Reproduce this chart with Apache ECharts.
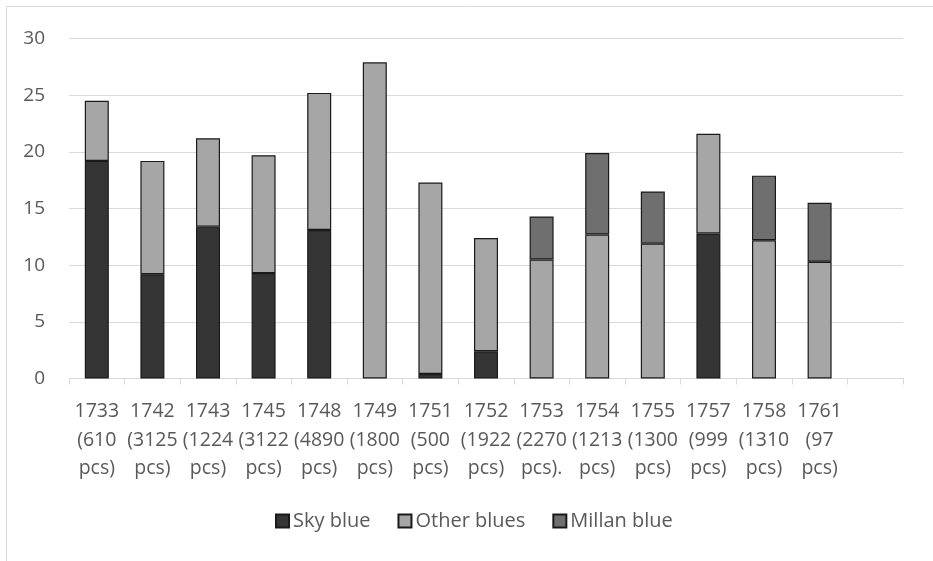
<!DOCTYPE html>
<html>
<head>
<meta charset="utf-8">
<script src="https://cdn.jsdelivr.net/npm/echarts@6/dist/echarts.min.js"></script>
<style>html,body{margin:0;padding:0;background:#fff}#c{width:933px;height:561px}</style>
</head>
<body>
<div id="c"></div>
<script>
const categories = ['1733\n(610\npcs)','1742\n(3125\npcs)','1743\n(1224\npcs)','1745\n(3122\npcs)','1748\n(4890\npcs)','1749\n(1800\npcs)','1751\n(500\npcs)','1752\n(1922\npcs)','1753\n(2270\npcs).','1754\n(1213\npcs)','1755\n(1300\npcs)','1757\n(999\npcs)','1758\n(1310\npcs)','1761\n(97\npcs)',''];
const skyBlue    = [19.2, 9.2, 13.4, 9.3, 13.1, null, 0.4, 2.4, null, null, null, 12.8, null, null, null];
const otherBlues = [5.3, 10.0, 7.8, 10.4, 12.1, 27.9, 16.9, 10.0, 10.5, 12.7, 11.9, 8.8, 12.2, 10.3, null];
const millanBlue = [null, null, null, null, null, null, null, null, 3.8, 7.2, 4.6, null, 5.7, 5.2, null];
const yTicks = [0, 5, 10, 15, 20, 25, 30];

const FONT = 'Open Sans';
const chart = echarts.init(document.getElementById('c'), null, {renderer: 'canvas'});
const barStyle = (color) => ({color: color, borderColor: '#1a1a1a', borderWidth: 1.2});
chart.setOption({
  animation: false,
  textStyle: {fontFamily: FONT},
  graphic: [{
    type: 'polyline', silent: true,
    shape: {points: [[6.5, 600], [6.5, 6.5], [1000, 6.5]]},
    style: {stroke: '#d9d9d9', lineWidth: 1, fill: null}
  }],
  grid: {left: 69, right: 30, top: 38.5, bottom: 182.5, containLabel: false},
  legend: {
    left: 275, top: 511, padding: 0, itemWidth: 13, itemHeight: 13, itemGap: 27,
    icon: 'rect',
    textStyle: {fontFamily: FONT, fontSize: 20, color: '#595959', padding: [0, 0, 0, -1]},
    data: ['Sky blue', 'Other blues', 'Millan blue']
  },
  xAxis: {
    type: 'category', data: categories, boundaryGap: true,
    axisLine: {show: true, lineStyle: {color: '#d9d9d9', width: 1}},
    axisTick: {show: true, length: 6, interval: 0, lineStyle: {color: '#d9d9d9'}},
    axisLabel: {interval: 0, margin: 19, color: '#595959', fontFamily: FONT, fontSize: 19.5, lineHeight: 28.5}
  },
  yAxis: {
    type: 'value', min: 0, max: 30, interval: 5,
    axisLine: {show: false}, axisTick: {show: false},
    splitLine: {lineStyle: {color: '#d9d9d9', width: 1}},
    axisLabel: {margin: 24, color: '#595959', fontFamily: FONT, fontSize: 19,
      formatter: (v) => yTicks.includes(v) ? String(v) : ''}
  },
  series: [
    {name: 'Sky blue', type: 'bar', stack: 'a', data: skyBlue, barWidth: 24, itemStyle: barStyle('#353535')},
    {name: 'Other blues', type: 'bar', stack: 'a', data: otherBlues, barWidth: 24, itemStyle: barStyle('#a6a6a6')},
    {name: 'Millan blue', type: 'bar', stack: 'a', data: millanBlue, barWidth: 24, itemStyle: barStyle('#6f6f6f')}
  ]
});
</script>
</body>
</html>
